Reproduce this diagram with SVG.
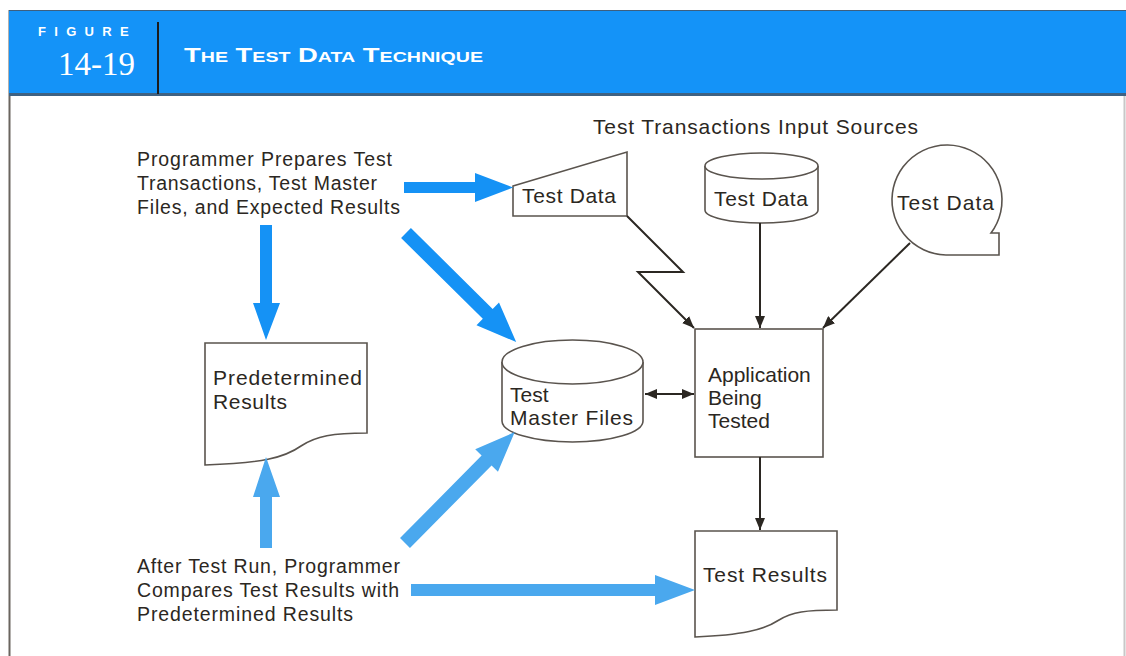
<svg xmlns="http://www.w3.org/2000/svg" width="1126" height="656" viewBox="0 0 1126 656">
<defs>
<style>
.t{font-family:"Liberation Sans",Arial,sans-serif;font-size:19.5px;fill:#2b2722}
.n{font-family:"Liberation Sans",Arial,sans-serif;font-size:21px;fill:#2b2722}
.shp{fill:#fff;stroke:#5a544e;stroke-width:1.6}
.ln{fill:none;stroke:#2b2722;stroke-width:2}
.ab{fill:#1592f5}
.al{fill:#4aa8ee}
</style>
<marker id="ah" viewBox="0 0 12 10" refX="12" refY="5" markerWidth="12" markerHeight="10" markerUnits="userSpaceOnUse" orient="auto-start-reverse">
<path d="M0,0 L12,5 L0,10 Z" fill="#2b2722"/>
</marker>
</defs>
<rect x="0" y="0" width="1126" height="656" fill="#fff"/>
<g id="frame">
<line x1="9.5" y1="10" x2="9.5" y2="656" stroke="#6a655f" stroke-width="2"/>
<line x1="1124.5" y1="10" x2="1124.5" y2="656" stroke="#c8c8c8" stroke-width="2"/>
<rect x="9" y="10" width="1117" height="84" fill="#1493f8"/>
<line x1="9" y1="10.5" x2="1126" y2="10.5" stroke="#3d5f7f" stroke-width="1"/>
<rect x="9" y="93" width="1117" height="3" fill="#3f6282"/>
<line x1="158" y1="22" x2="158" y2="94" stroke="#1b1b1b" stroke-width="2"/>
<text x="38" y="36" font-family="Liberation Sans,Arial,sans-serif" font-weight="bold" font-size="13" fill="#fff" letter-spacing="8.3">FIGURE</text>
<text x="58" y="75" font-family="Liberation Serif,Times New Roman,serif" font-size="33" fill="#fff">14-19</text>
<text x="184" y="62" font-family="Liberation Sans,Arial,sans-serif" font-weight="bold" font-size="21" fill="#fff" font-variant="small-caps" textLength="299" lengthAdjust="spacingAndGlyphs">The Test Data Technique</text>
</g>
<g id="label-sources"><text class="t" x="593" y="134" style="font-size:21px" textLength="325">Test Transactions Input Sources</text></g>
<g id="label-prepare">
<text class="t" x="137" y="166" textLength="255">Programmer Prepares Test</text>
<text class="t" x="137" y="190" textLength="240">Transactions, Test Master</text>
<text class="t" x="137" y="214" textLength="263">Files, and Expected Results</text>
</g>
<g id="label-compare">
<text class="t" x="137" y="573" textLength="263">After Test Run, Programmer</text>
<text class="t" x="137" y="597" textLength="262">Compares Test Results with</text>
<text class="t" x="137" y="621" textLength="216">Predetermined Results</text>
</g>
<g id="manual-input">
<path class="shp" d="M513,186 L627,152 L627,216 L513,216 Z"/>
<text class="n" x="522" y="203" textLength="94">Test Data</text>
</g>
<g id="disk-data">
<path class="shp" d="M705,166 V210 A56.5,13 0 0 0 818,210 V166"/>
<ellipse class="shp" cx="761.5" cy="166" rx="56.5" ry="13"/>
<text class="n" x="714" y="206" textLength="94">Test Data</text>
</g>
<g id="tape-data">
<path class="shp" d="M991,233 A55,55 0 1 0 946,255 H999 V233 Z"/>
<text class="n" x="897" y="210" textLength="97">Test Data</text>
</g>
<g id="application">
<rect class="shp" x="695" y="329" width="128" height="128"/>
<text class="n" x="708" y="382">Application</text>
<text class="n" x="708" y="405">Being</text>
<text class="n" x="708" y="428">Tested</text>
</g>
<g id="master-files">
<path class="shp" d="M502,362 V421 A70.5,21 0 0 0 643,421 V362"/>
<ellipse class="shp" cx="572.5" cy="362" rx="70.5" ry="22"/>
<text class="n" x="510" y="402">Test</text>
<text class="n" x="510" y="425" textLength="123">Master Files</text>
</g>
<g id="predetermined">
<path class="shp" d="M205,343 H367 V433 C333,433 316,436 301,446 C284,458 262,463 205,465 Z"/>
<text class="n" x="213" y="385" textLength="149">Predetermined</text>
<text class="n" x="213" y="409" textLength="74">Results</text>
</g>
<g id="test-results">
<path class="shp" d="M695,531 H837 V610 C806,610 792,612 779,620 C764,630 742,635 695,637 Z"/>
<text class="n" x="703" y="582" textLength="124">Test Results</text>
</g>
<g id="connectors">
<polyline class="ln" points="627,216 683,272 638,272 694,328" marker-end="url(#ah)"/>
<line class="ln" x1="760" y1="223" x2="760" y2="328" marker-end="url(#ah)"/>
<line class="ln" x1="910" y1="243" x2="823" y2="328" marker-end="url(#ah)"/>
<line class="ln" x1="645" y1="394" x2="694" y2="394" marker-start="url(#ah)" marker-end="url(#ah)"/>
<line class="ln" x1="760" y1="457" x2="760" y2="530" marker-end="url(#ah)"/>
<polygon class="ab" points="404,182 475,182 475,173 513,187.5 475,202 475,193 404,193"/>
<polygon class="ab" points="260,225 272,225 272,303 280,303 266,340 253,303 260,303"/>
<polygon class="ab" transform="translate(406,233) rotate(44.7)" points="0,-7 115,-7 115,-16 155,0 115,16 115,7 0,7"/>
<polygon class="al" points="260,548 272,548 272,497 280,497 266,457 253,497 260,497"/>
<polygon class="al" transform="translate(405,543) rotate(-45.3)" points="0,-7 116,-7 116,-16 156,0 116,16 116,7 0,7"/>
<polygon class="al" points="411,584 655,584 655,575 695,590 655,605 655,596 411,596"/>
</g>
</svg>
